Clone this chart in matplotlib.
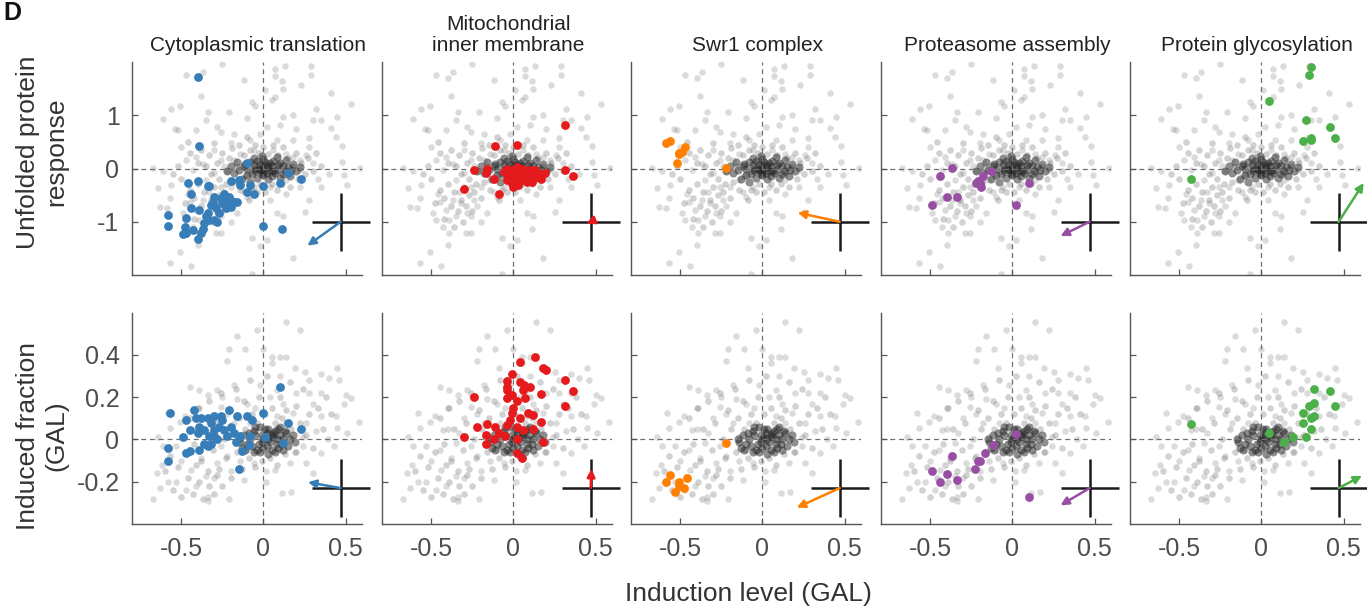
import matplotlib
matplotlib.use("Agg")
import matplotlib.pyplot as plt
import numpy as np
from matplotlib import transforms

plt.rcParams["font.family"] = ["Liberation Sans", "DejaVu Sans"]
plt.rcParams["axes.unicode_minus"] = False

TERMS = [
    "Cytoplasmic translation",
    "Mitochondrial\ninner membrane",
    "Swr1 complex",
    "Proteasome assembly",
    "Protein glycosylation",
]
TERM_COLORS = ["#377eb8", "#e41a1c", "#ff7f00", "#984ea3", "#4daf4a"]

X_TICKS = [-0.5, 0, 0.5]
X_TICKLABELS = ["-0.5", "0", "0.5"]
UPR_TICKS = [-1, 0, 1]
UPR_TICKLABELS = ["-1", "0", "1"]
GAL_TICKS = [-0.2, 0, 0.2, 0.4]
GAL_TICKLABELS = ["-0.2", "0", "0.2", "0.4"]

# genome-wide background cloud, top row (induction level vs UPR)
bg_upr = [
    (-0.25, 1.96), (-0.47, 1.76), (-0.37, 1.82), (-0.40, 1.70), (-0.12, 1.66), (0.07, 1.87),
    (0.13, 1.93), (0.29, 1.92), (0.29, 1.76), (0.07, 1.74), (0.11, 1.65), (0.12, 1.50),
    (0.23, 1.56), (0.01, 1.48), (-0.38, 1.36), (-0.56, 1.11), (-0.51, 1.17), (-0.34, 1.06),
    (-0.21, 1.06), (-0.07, 1.25), (-0.05, 1.17), (0.05, 1.28), (0.07, 1.34), (0.41, 1.42),
    (0.53, 1.21), (0.32, 1.11), (0.45, 0.97), (0.30, 0.92), (0.35, 0.92), (0.41, 0.76),
    (0.48, 0.42), (0.44, 0.60), (0.28, 0.58), (0.28, 0.40), (0.18, 1.00), (0.12, 0.97),
    (0.10, 0.81), (-0.61, 0.93), (-0.54, 0.75), (-0.52, 0.72), (-0.41, 0.72), (-0.35, 0.92),
    (-0.28, 0.78), (-0.26, 0.69), (-0.18, 0.65), (-0.67, 0.01), (-0.61, -0.05), (-0.64, -0.36),
    (-0.56, -0.31), (-0.57, -0.56), (-0.63, -0.73), (-0.59, -0.75), (-0.46, -0.47), (-0.45, -0.62),
    (-0.49, -0.84), (-0.47, -0.97), (-0.43, -1.09), (-0.40, -1.43), (-0.39, -1.21), (-0.51, -1.56),
    (-0.57, -1.78), (-0.44, -1.84), (-0.32, -0.65), (-0.28, -0.84), (-0.35, -0.90), (-0.26, -1.21),
    (-0.29, -1.21), (-0.16, -0.84), (-0.20, -1.00), (-0.07, -1.31), (-0.07, -1.99), (-0.02, -1.46),
    (0.02, -1.34), (0.11, -1.14), (0.08, -0.84), (0.18, -1.68), (0.12, -0.90), (0.25, -0.81),
    (0.28, -0.59), (0.35, -0.34), (0.40, -0.11), (0.48, 0.12), (0.49, -0.12), (0.51, -0.31),
    (0.59, 0.01), (0.26, 0.25), (0.18, 0.22), (0.22, -0.34), (0.14, -0.47), (0.04, -0.59),
    (-0.10, -0.53), (-0.20, -0.34), (-0.35, -0.22), (-0.41, 0.22), (-0.30, 0.34), (-0.20, 0.47),
    (-0.08, 0.53), (-0.02, 0.65), (0.08, 0.53), (0.18, 0.53), (0.02, 0.78), (-0.47, 0.16),
    (-0.43, -0.03), (-0.37, 0.09), (-0.26, 0.16), (-0.30, -0.09), (-0.26, -0.34), (-0.18, 0.16),
    (-0.14, 0.28), (-0.14, -0.22), (-0.06, -0.34), (0.04, -0.34), (0.14, -0.22), (0.22, -0.03),
    (0.22, 0.16), (0.14, 0.28), (0.06, 0.34), (-0.06, 0.34), (-0.37, -0.59), (-0.41, -0.78),
    (-0.24, -0.59), (-0.26, -0.90), (-0.39, -0.97), (-0.33, -0.45), (-0.22, -0.70), (-0.12, -0.45),
    (0.30, 0.10), (0.33, -0.20), (-0.50, 0.40), (-0.24, 0.05), (-0.10, 0.95), (0.20, 0.75),
]
bg_upr_mid = [
    (-0.45, 0.30), (-0.40, 0.10), (-0.38, 0.35), (-0.35, 0.05), (-0.33, 0.25), (-0.32, -0.10),
    (-0.30, 0.48), (-0.28, 0.10), (-0.27, -0.20), (-0.25, 0.30), (-0.24, -0.45), (-0.22, -0.05),
    (-0.21, 0.20), (-0.20, -0.55), (-0.19, 0.38), (-0.18, -0.25), (-0.16, 0.05), (-0.15, 0.45),
    (-0.14, -0.40), (-0.12, 0.25), (-0.11, -0.15), (-0.10, 0.60), (-0.09, -0.60), (-0.08, 0.35),
    (-0.07, -0.40), (-0.05, 0.45), (-0.04, -0.45), (-0.03, 0.30), (-0.02, -0.30), (0.00, 0.40),
    (0.01, -0.45), (0.03, 0.28), (0.05, -0.30), (0.06, 0.45), (0.08, -0.40), (0.09, 0.25),
    (0.11, -0.30), (0.12, 0.40), (0.14, -0.10), (0.15, 0.20), (0.16, -0.35), (0.18, 0.05),
    (0.20, 0.30), (0.21, -0.20), (0.23, 0.10), (0.25, -0.10), (0.27, 0.20), (0.30, -0.05),
    (0.32, 0.30), (0.35, 0.05), (-0.45, -0.40), (-0.42, -0.55), (-0.40, -0.30), (-0.38, -0.70),
    (-0.36, -0.45), (-0.34, -0.80), (-0.32, -0.60), (-0.30, -0.35), (-0.29, -0.70), (-0.27, -0.50),
    (-0.25, -0.80), (-0.23, -0.30), (-0.31, -1.00), (-0.36, -1.10), (-0.42, -0.95), (-0.48, -0.65),
    (-0.50, -0.20), (-0.52, 0.05), (-0.55, -0.10), (-0.46, 0.50),
]
bg_upr_core = [
    (-0.12, 0.05), (-0.08, 0.12), (-0.05, -0.05), (-0.02, 0.08), (0.00, 0.00), (0.02, -0.08),
    (0.05, 0.05), (0.08, -0.02), (0.10, 0.10), (0.12, -0.10), (-0.10, -0.12), (0.00, 0.18),
    (0.03, -0.20), (0.15, 0.02), (-0.15, -0.02), (0.06, 0.15), (-0.06, 0.20), (-0.04, -0.18),
    (0.10, -0.18), (0.18, 0.08), (-0.20, 0.05), (0.20, -0.05), (-0.08, -0.25), (0.00, -0.12),
    (0.04, 0.10), (-0.03, 0.00), (0.07, -0.08), (-0.10, 0.00), (0.12, 0.04), (0.00, 0.05),
    (-0.02, -0.03), (0.03, 0.02), (-0.06, 0.06), (0.06, -0.04), (0.01, 0.12), (-0.01, -0.10),
    (-0.18, -0.08), (-0.16, 0.12), (0.16, -0.14), (0.14, 0.16), (0.22, 0.02), (-0.22, -0.04),
    (-0.13, -0.20), (0.08, 0.22), (-0.01, 0.24), (0.05, -0.14), (-0.07, -0.10), (0.09, 0.06),
    (-0.04, 0.14), (0.13, -0.05), (-0.11, 0.09), (0.17, -0.02), (0.02, 0.07), (-0.05, -0.01),
    (0.04, -0.04), (0.00, -0.06),
]

# genome-wide background cloud, bottom row (induction level vs induced fraction)
bg_gal = [
    (0.14, 0.556), (0.22, 0.517), (-0.16, 0.49), (-0.04, 0.517), (-0.21, 0.43), (-0.11, 0.43),
    (0.00, 0.43), (0.05, 0.39), (0.10, 0.39), (0.14, 0.39), (-0.22, 0.37), (-0.09, 0.34),
    (0.05, 0.36), (0.19, 0.34), (0.25, 0.32), (0.35, 0.31), (0.40, 0.29), (0.45, 0.34),
    (0.46, 0.28), (0.28, 0.28), (-0.45, 0.25), (-0.39, 0.235), (-0.34, 0.21), (-0.28, 0.235),
    (-0.18, 0.26), (-0.02, 0.26), (0.08, 0.235), (0.20, 0.22), (0.35, 0.22), (0.50, 0.21),
    (0.53, 0.196), (0.49, 0.17), (0.44, 0.11), (0.58, 0.085), (0.51, 0.03), (0.45, 0.054),
    (0.35, 0.11), (0.26, 0.077), (-0.58, 0.125), (-0.51, 0.085), (-0.48, 0.11), (-0.39, 0.15),
    (-0.26, 0.156), (-0.16, 0.19), (-0.10, 0.17), (-0.64, 0.014), (-0.57, 0.054), (-0.43, 0.046),
    (-0.33, 0.03), (-0.61, -0.033), (-0.53, -0.033), (-0.45, -0.05), (-0.65, -0.16), (-0.62, -0.12),
    (-0.67, -0.28), (-0.63, -0.23), (-0.58, -0.20), (-0.47, -0.24), (-0.41, -0.22), (-0.44, -0.144),
    (-0.35, -0.175), (-0.34, -0.27), (-0.34, -0.29), (-0.38, -0.09), (-0.28, -0.11), (-0.22, -0.08),
    (-0.21, -0.28), (-0.12, -0.19), (-0.20, -0.15), (-0.06, -0.11), (0.014, -0.15), (0.014, -0.20),
    (0.07, -0.144), (0.11, -0.254), (0.17, -0.25), (0.16, -0.11), (0.26, -0.11), (0.30, -0.16),
    (0.35, -0.065), (0.43, -0.033), (0.39, 0.00), (0.24, -0.033), (0.24, 0.014), (0.14, 0.077),
    (0.08, 0.11), (0.18, 0.125), (-0.26, -0.033), (-0.35, -0.017), (-0.18, 0.077), (-0.14, 0.014),
    (-0.10, -0.05), (-0.30, 0.10), (-0.22, 0.12), (-0.05, 0.15), (0.04, 0.20), (0.12, 0.17),
    (0.30, 0.17), (0.32, 0.04), (-0.50, -0.10), (-0.30, -0.18), (-0.14, -0.10), (0.20, -0.06),
    (-0.40, 0.05), (-0.08, 0.08), (0.28, 0.22), (-0.53, -0.20), (-0.25, 0.20), (0.10, 0.30),
]
bg_gal_mid = [
    (-0.45, 0.10), (-0.42, -0.02), (-0.40, 0.15), (-0.38, -0.10), (-0.36, 0.05), (-0.34, -0.15),
    (-0.33, 0.18), (-0.31, -0.05), (-0.29, 0.08), (-0.27, -0.14), (-0.26, 0.22), (-0.24, 0.00),
    (-0.23, -0.09), (-0.21, 0.14), (-0.20, -0.18), (-0.19, 0.05), (-0.17, 0.24), (-0.16, -0.06),
    (-0.15, 0.10), (-0.13, -0.14), (-0.12, 0.18), (-0.11, 0.05), (-0.09, -0.09), (-0.08, 0.28),
    (-0.07, 0.12), (-0.05, -0.13), (-0.04, 0.08), (-0.03, 0.20), (-0.01, -0.10), (0.01, 0.12),
    (0.02, 0.30), (0.04, -0.09), (0.05, 0.15), (0.07, 0.08), (0.08, -0.12), (0.10, 0.20),
    (0.11, 0.10), (0.13, -0.07), (0.14, 0.14), (0.16, 0.27), (0.17, 0.05), (0.19, -0.06),
    (0.20, 0.16), (0.22, 0.08), (0.24, 0.24), (0.26, 0.02), (0.28, 0.12), (0.30, -0.04),
    (0.33, 0.15), (0.36, 0.05), (0.38, 0.20), (0.41, 0.12), (-0.60, -0.15), (-0.57, -0.08),
    (-0.55, -0.24), (-0.52, -0.13), (-0.50, -0.27), (-0.48, -0.06), (-0.46, -0.18), (-0.43, -0.26),
    (-0.41, -0.12), (-0.39, -0.20), (-0.37, -0.28), (-0.33, -0.22), (-0.30, -0.26), (-0.28, -0.17),
    (-0.25, -0.22),
]
bg_gal_core = [
    (-0.08, 0.00), (-0.05, 0.02), (-0.03, -0.02), (0.00, 0.00), (0.02, 0.03), (0.04, -0.01),
    (0.06, 0.01), (0.08, -0.02), (0.10, 0.02), (0.12, 0.00), (-0.10, -0.02), (0.00, -0.04),
    (0.03, 0.05), (-0.06, 0.04), (0.07, 0.04), (0.09, -0.04), (-0.02, 0.06), (0.14, 0.03),
    (-0.12, 0.02), (0.05, -0.05), (0.01, 0.01), (-0.04, -0.05), (0.11, -0.02), (0.16, 0.00),
    (-0.14, -0.01), (-0.01, -0.01), (0.05, 0.02), (-0.07, -0.03), (0.02, -0.03), (0.09, 0.05),
    (-0.15, 0.00), (-0.13, -0.04), (0.18, 0.02), (0.15, -0.03), (0.13, 0.04), (-0.09, 0.03),
    (-0.11, -0.05), (0.07, -0.06), (0.03, -0.07), (-0.02, -0.06), (0.01, 0.05), (-0.05, 0.06),
    (0.10, 0.06), (0.12, -0.05), (0.19, -0.01), (-0.06, -0.06), (0.06, 0.03), (-0.01, 0.02),
    (0.03, 0.00), (0.08, 0.00),
]

# annotated gene sets: (induction level, UPR) and (induction level, induced fraction)
cyto_upr = [
    (-0.40, 1.71), (-0.39, 0.42), (-0.10, 0.11), (0.15, -0.08), (0.23, -0.19), (0.10, -0.28),
    (0.00, -0.33), (0.00, -1.08), (0.11, -1.13), (-0.08, -0.31), (-0.06, -0.47), (-0.10, -0.44),
    (-0.15, -0.22), (-0.20, -0.24), (-0.14, -0.31), (-0.40, -0.24), (-0.46, -0.28), (-0.44, -0.47),
    (-0.34, -0.32), (-0.33, -0.32), (-0.58, -0.88), (-0.58, -1.08), (-0.47, -0.93), (-0.48, -1.09),
    (-0.49, -1.23), (-0.43, -1.15), (-0.40, -1.33), (-0.37, -1.14), (-0.44, -0.75), (-0.39, -0.78),
    (-0.34, -0.84), (-0.31, -0.62), (-0.28, -1.00), (-0.30, -0.97), (-0.33, -0.97), (-0.25, -0.65),
    (-0.24, -0.47), (-0.21, -0.53), (-0.18, -0.62), (-0.16, -0.62), (-0.20, -0.72), (-0.27, -0.84),
    (-0.29, -0.75), (-0.35, -0.90), (-0.36, -1.03), (-0.47, -1.21), (-0.38, -1.21), (-0.22, -0.59),
    (-0.26, -0.56), (-0.32, -0.69), (-0.23, -0.75), (-0.30, -0.53), (-0.48, -1.21),
]
cyto_gal = [
    (-0.57, 0.125), (-0.58, -0.04), (-0.58, -0.10), (-0.49, 0.01), (-0.47, 0.09), (-0.47, -0.065),
    (-0.45, -0.055), (-0.42, 0.14), (-0.41, 0.10), (-0.39, -0.05), (-0.38, 0.10), (-0.34, 0.10),
    (-0.32, 0.08), (-0.30, 0.11), (-0.26, 0.11), (-0.25, 0.09), (-0.21, 0.14), (-0.16, 0.11),
    (-0.10, 0.11), (-0.07, 0.09), (0.00, 0.125), (0.10, 0.25), (0.15, 0.08), (0.23, 0.05),
    (0.12, -0.015), (0.01, 0.013), (-0.09, -0.025), (-0.13, -0.055), (-0.15, -0.14), (-0.45, 0.045),
    (-0.40, 0.03), (-0.36, 0.045), (-0.33, 0.015), (-0.30, 0.045), (-0.27, 0.06), (-0.24, 0.045),
    (-0.22, 0.015), (-0.18, 0.03), (-0.14, 0.015), (-0.32, -0.02), (-0.28, 0.00), (-0.36, -0.02),
    (-0.34, -0.03), (-0.39, 0.06), (-0.30, 0.015), (-0.20, 0.06), (-0.17, -0.01), (-0.08, 0.015),
]
mito_upr = [
    (0.315, 0.81), (0.02, 0.45), (-0.11, 0.42), (-0.24, -0.03), (-0.16, 0.00), (-0.17, -0.09),
    (-0.12, -0.20), (-0.30, -0.39), (-0.09, -0.48), (0.315, -0.03), (0.36, -0.14), (0.19, -0.09),
    (0.17, -0.19), (-0.04, 0.00), (-0.02, -0.09), (0.00, -0.03), (0.02, 0.03), (0.04, -0.06),
    (0.06, 0.00), (0.08, -0.09), (0.10, -0.03), (0.12, -0.12), (-0.04, -0.22), (-0.01, -0.28),
    (0.02, -0.25), (0.05, -0.22), (0.08, -0.25), (0.11, -0.25), (0.14, -0.16), (-0.03, -0.12),
    (0.01, -0.16), (0.03, -0.31), (0.06, -0.16), (0.09, -0.19), (0.13, -0.03), (0.00, -0.34),
    (-0.06, -0.06), (0.15, -0.09),
]
mito_gal = [
    (0.13, 0.39), (0.04, 0.365), (0.18, 0.34), (0.20, 0.33), (-0.01, 0.31), (-0.04, 0.275),
    (-0.04, 0.25), (-0.04, 0.235), (0.04, 0.27), (0.065, 0.26), (0.10, 0.25), (0.06, 0.235),
    (0.315, 0.28), (0.36, 0.23), (0.315, 0.16), (0.17, 0.215), (-0.24, 0.20), (-0.01, 0.21),
    (-0.04, 0.195), (0.02, 0.18), (0.07, 0.195), (0.00, 0.15), (-0.01, 0.125), (0.09, 0.125),
    (0.12, 0.115), (0.04, 0.10), (0.17, 0.085), (-0.04, 0.07), (0.02, 0.06), (-0.22, 0.06),
    (-0.16, 0.075), (-0.11, 0.06), (0.12, 0.05), (-0.17, 0.02), (-0.30, 0.01), (-0.17, -0.02),
    (-0.12, 0.00), (-0.09, 0.03), (-0.05, 0.015), (0.02, 0.00), (0.02, -0.065), (0.055, -0.09),
    (0.18, -0.01), (0.06, 0.045), (-0.02, 0.09),
]
swr1_upr = [
    (-0.59, 0.47), (-0.56, 0.52), (-0.51, 0.29), (-0.49, 0.31), (-0.47, 0.40), (-0.52, 0.11),
    (-0.51, 0.27), (-0.22, 0.01),
]
swr1_gal = [
    (-0.56, -0.167), (-0.59, -0.20), (-0.51, -0.20), (-0.51, -0.22), (-0.48, -0.23), (-0.46, -0.18),
    (-0.53, -0.25), (-0.22, -0.015),
]
prot_upr = [
    (-0.37, 0.01), (-0.44, -0.14), (-0.13, -0.04), (-0.18, -0.14), (-0.21, -0.24), (-0.20, -0.27),
    (-0.19, -0.34), (0.10, -0.28), (-0.40, -0.53), (-0.34, -0.53), (-0.49, -0.68), (0.02, -0.68),
    (-0.22, -0.27),
]
prot_gal = [
    (0.02, 0.024), (-0.12, -0.024), (-0.17, -0.065), (-0.20, -0.10), (-0.21, -0.10), (-0.225, -0.14),
    (-0.37, -0.076), (-0.49, -0.15), (-0.40, -0.165), (-0.44, -0.20), (-0.34, -0.19), (0.10, -0.27),
]
glyc_upr = [
    (0.30, 1.91), (0.29, 1.76), (0.045, 1.26), (0.27, 0.92), (0.42, 0.77), (0.45, 0.57),
    (0.30, 0.57), (0.30, 0.53), (0.25, 0.52), (-0.43, -0.19),
]
glyc_gal = [
    (-0.43, 0.074), (0.047, 0.033), (0.14, -0.014), (0.19, 0.011), (0.27, 0.011), (0.25, 0.08),
    (0.25, 0.125), (0.30, 0.05), (0.30, 0.10), (0.32, 0.11), (0.29, 0.16), (0.32, 0.175),
    (0.32, 0.24), (0.42, 0.23), (0.45, 0.16),
]

# mean-shift arrows in the compass insets (units of compass arm length)
arrow_upr = [(-1.14, -0.82), (-0.15, -0.06), (-1.44, 0.31), (-1.00, -0.49), (0.86, 1.33)]
arrow_gal = [(-1.12, 0.20), (0.03, 0.66), (-1.47, -0.67), (-1.00, -0.59), (0.80, 0.42)]
COMPASS_UPR = (0.47, -1.0)
COMPASS_GAL = (0.47, -0.23)

SETS_UPR = [cyto_upr, mito_upr, swr1_upr, prot_upr, glyc_upr]
SETS_GAL = [cyto_gal, mito_gal, swr1_gal, prot_gal, glyc_gal]

FIG_W, FIG_H = 1367, 612
AX_LEFT = [132, 382, 631, 881, 1130]
AX_W = 230
ROW_TOP = {"upr": (62, 275), "gal": (312.7, 524)}
ARM = 21  # compass arm length, points
TICK_GREY = "#4d4d4d"


def add_axes(fig, left_px, top_px, bottom_px):
    return fig.add_axes([left_px / FIG_W, 1 - bottom_px / FIG_H,
                         AX_W / FIG_W, (bottom_px - top_px) / FIG_H])


def draw_panel(ax, bg_layers, pts, color, arrow, compass, ylim, yticks, yticklabels,
               show_y, show_x):
    bg, mid, core = (np.array(layer) for layer in bg_layers)
    pts = np.array(pts)
    ax.scatter(bg[:, 0], bg[:, 1], s=22, color="#6a6a6a", alpha=0.24, linewidths=0, zorder=1)
    ax.scatter(mid[:, 0], mid[:, 1], s=22, color="#5a5a5a", alpha=0.28, linewidths=0, zorder=1.1)
    ax.scatter(core[:, 0], core[:, 1], s=34, color="#262626", alpha=0.52, linewidths=0, zorder=1.2)
    ax.axhline(0, color="#707070", lw=0.9, ls=(0, (4, 3)), zorder=1.5)
    ax.axvline(0, color="#707070", lw=0.9, ls=(0, (4, 3)), zorder=1.5)
    ax.scatter(pts[:, 0], pts[:, 1], s=40, color=color, linewidths=0, zorder=3)

    cx, cy = compass
    ax.plot(cx, cy, marker="+", ms=2 * ARM, mew=1.8, color="#1a1a1a", clip_on=False, zorder=4)
    tip = transforms.offset_copy(ax.transData, fig=ax.figure, x=arrow[0] * ARM,
                                 y=arrow[1] * ARM, units="points")
    ax.annotate("", xy=(cx, cy), xycoords=tip, xytext=(cx, cy), textcoords="data",
                arrowprops=dict(arrowstyle="-|>", color=color, lw=1.8, mutation_scale=12,
                                shrinkA=0, shrinkB=0), zorder=5)

    ax.set_xlim(-0.8, 0.6)
    ax.set_ylim(*ylim)
    ax.set_xticks(X_TICKS)
    ax.set_yticks(yticks)
    ax.set_xticklabels(X_TICKLABELS if show_x else [])
    ax.set_yticklabels(yticklabels if show_y else [])
    for side in ("top", "right"):
        ax.spines[side].set_visible(False)
    for side in ("left", "bottom"):
        ax.spines[side].set_color("#555555")
        ax.spines[side].set_linewidth(1.0)
    ax.tick_params(direction="in", length=4, width=0.9, color="#555555",
                   labelcolor=TICK_GREY, labelsize=18, pad=9)


def main() -> None:
    fig = plt.figure(figsize=(FIG_W / 100, FIG_H / 100), dpi=100)
    for i in range(5):
        top, bottom = ROW_TOP["upr"]
        ax = add_axes(fig, AX_LEFT[i], top, bottom)
        draw_panel(ax, (bg_upr, bg_upr_mid, bg_upr_core), SETS_UPR[i], TERM_COLORS[i],
                   arrow_upr[i], COMPASS_UPR, (-2, 2), UPR_TICKS, UPR_TICKLABELS, i == 0, False)
        ax.text(-0.03, 1.033, TERMS[i], transform=transforms.blended_transform_factory(
            ax.transData, ax.transAxes), ha="center", va="bottom", fontsize=15,
            color="#222222", linespacing=1.15)

        top, bottom = ROW_TOP["gal"]
        ax = add_axes(fig, AX_LEFT[i], top, bottom)
        draw_panel(ax, (bg_gal, bg_gal_mid, bg_gal_core), SETS_GAL[i], TERM_COLORS[i],
                   arrow_gal[i], COMPASS_GAL, (-0.4, 0.6), GAL_TICKS, GAL_TICKLABELS,
                   i == 0, True)

    fig.text(42 / FIG_W, 1 - 152 / FIG_H, "Unfolded protein\nresponse", rotation=90,
             ha="center", va="center", fontsize=19, color="#333333", linespacing=1.25)
    fig.text(42 / FIG_W, 1 - 436 / FIG_H, "Induced fraction\n(GAL)", rotation=90,
             ha="center", va="center", fontsize=19, color="#333333", linespacing=1.25)
    fig.text(748 / FIG_W, 1 - 594 / FIG_H, "Induction level (GAL)", ha="center",
             va="center", fontsize=19, color="#333333")
    fig.text(3 / FIG_W, 1 - 1 / FIG_H, "D", ha="left", va="top", fontsize=18,
             fontweight="bold", color="#111111")
    fig.savefig("out.png", dpi=100)


if __name__ == "__main__":
    main()
